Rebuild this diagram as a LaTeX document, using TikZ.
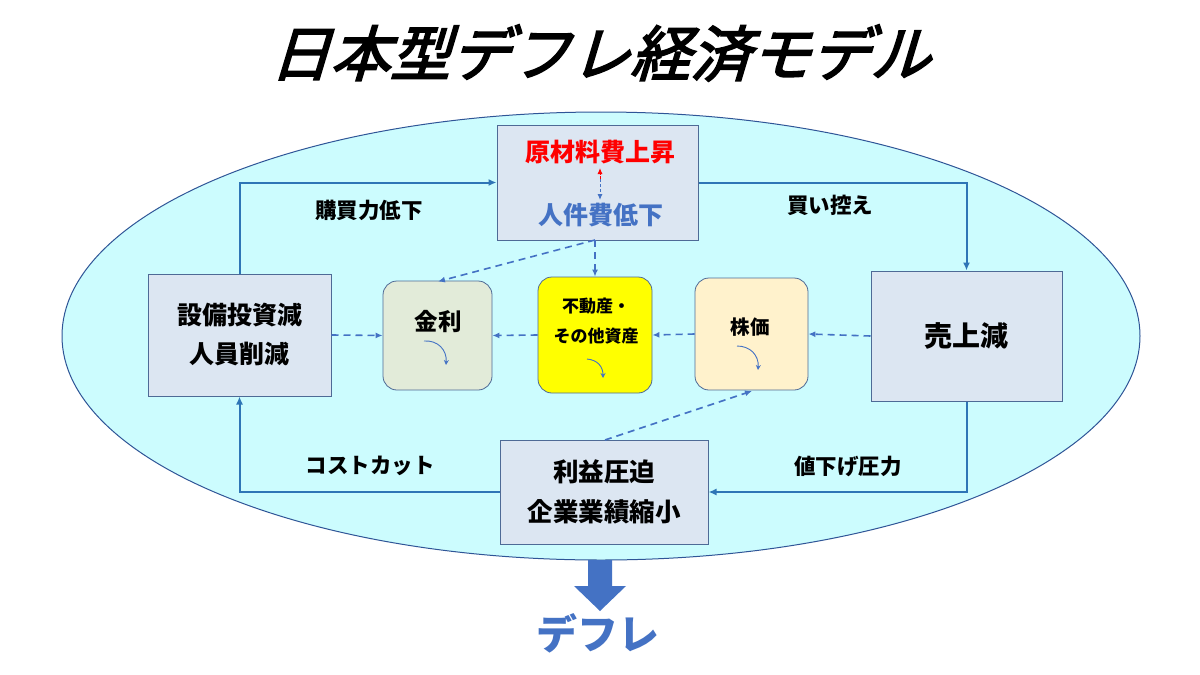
\documentclass[tikz,border=0pt]{standalone}
\usepackage{fontspec}
\setmainfont{Noto Sans CJK JP}
\newfontfamily\titlefont[FakeSlant=0.3,FakeBold=3]{Noto Sans CJK JP}
\usetikzlibrary{arrows.meta}
\definecolor{ellfill}{RGB}{204,252,254}
\definecolor{elldraw}{RGB}{47,85,151}
\definecolor{boxfill}{RGB}{220,230,242}
\definecolor{boxdraw}{RGB}{78,106,150}
\definecolor{solidblue}{RGB}{46,117,182}
\definecolor{dashblue}{RGB}{68,114,196}
\definecolor{textblue}{RGB}{68,114,196}
\definecolor{greenfill}{RGB}{226,235,217}
\definecolor{creamfill}{RGB}{255,242,204}
\definecolor{yell}{RGB}{255,255,0}
\tikzset{
  mainbox/.style={draw=boxdraw, line width=1pt, fill=boxfill, inner sep=0pt, align=center, font=\bfseries},
  roundbox/.style={draw=boxdraw, line width=0.8pt, rounded corners=14pt, inner sep=0pt},
  flow/.style={draw=solidblue, line width=2pt, -{Latex[length=8pt,width=7pt]}},
  dflow/.style={draw=dashblue, line width=1.6pt, dash pattern=on 7pt off 5pt, -{Latex[length=7pt,width=6pt]}},
  lbl/.style={font=\fontsize{21.5}{24}\selectfont\bfseries, inner sep=0pt},
  trend/.style={draw=dashblue, line width=0.9pt, -{Stealth[length=5pt,width=5pt]}}
}
\begin{document}
\begin{tikzpicture}[x=1pt,y=-1pt]
\useasboundingbox[fill=white] (0,0) rectangle (1200,675);
% title
\node[font=\titlefont\fontsize{60}{64}\selectfont, inner sep=0pt] (title) at (600,53) {日本型デフレ経済モデル};
% ellipse
\draw[fill=ellfill, draw=elldraw, line width=1pt] (601,336) ellipse [x radius=539, y radius=224];
% boxes
\node[mainbox, minimum width=201pt, minimum height=115pt] (top) at (597.5,182.5) {};
\node[font=\fontsize{25}{28}\selectfont\bfseries, text=red, inner sep=0pt] (raw) at (600,152) {原材料費上昇};
\node[font=\fontsize{25}{28}\selectfont\bfseries, text=textblue, inner sep=0pt] (labor) at (601,215) {人件費低下};
\coordinate (mid) at (600,179);
\draw[draw=red, line width=1pt, dash pattern=on 3pt off 2pt, -{Latex[length=6pt,width=5pt]}] (mid) -- (600,168);
\draw[draw=dashblue, line width=1pt, dash pattern=on 3pt off 2pt, -{Latex[length=6pt,width=5pt]}] (mid) -- (600,200);

\node[mainbox, minimum width=183pt, minimum height=122pt, font=\fontsize{25}{39}\selectfont\bfseries] (left) at (239.5,335) {設備投資減\\人員削減};
\node[mainbox, minimum width=191pt, minimum height=130pt, font=\fontsize{28}{30}\selectfont\bfseries] (right) at (966.5,336) {売上減};
\node[mainbox, minimum width=208pt, minimum height=104pt, font=\fontsize{25.5}{40}\selectfont\bfseries] (bottom) at (604,492) {利益圧迫\\企業業績縮小};

\node[roundbox, fill=greenfill, minimum width=109pt, minimum height=109pt] (rate) at (437.5,335.5) {};
\node[font=\fontsize{23.5}{26}\selectfont\bfseries, inner sep=0pt] (rateT) at (438,322) {金利};
\node[roundbox, fill=yell, minimum width=114pt, minimum height=116pt] (estate) at (595,335) {};
\node[font=\fontsize{17}{30}\selectfont\bfseries, inner sep=0pt, align=center] (estateT) at (596,321) {不動産・\\その他資産};
\node[roundbox, fill=creamfill, minimum width=113pt, minimum height=112pt] (stock) at (751.5,334) {};
\node[font=\fontsize{19.5}{22}\selectfont\bfseries, inner sep=0pt] (stockT) at (750,327) {株価};

% trend arrows
\draw[trend] (424,341) .. controls (438,340) and (447,350) .. (446,365);
\draw[trend] (587,359) .. controls (598,360) and (603,367) .. (603,378);
\draw[trend] (737,346) .. controls (750,346) and (759,355) .. (758,370);

% main loop
\draw[flow] (left.north) |- (top.west);
\draw[flow] (top.east) -| (right.north);
\draw[flow] (right.south) |- (bottom.east);
\draw[flow] (bottom.west) -| (left.south);

\node[lbl] (l1) at (369,210) {購買力低下};
\node[lbl] (l2) at (830,205) {買い控え};
\node[lbl] (l3) at (848,466) {値下げ圧力};
\node[lbl] (l4) at (370,466) {コストカット};

% dashed links
\draw[dflow] (left.east) -- (rate.west);
\draw[dflow] (estate.west) -- (rate.east);
\draw[dflow] (stock.west) -- (estate.east);
\draw[dflow] (right.west) -- (stock.east);
\coordinate (tb) at (595,240);
\coordinate (ratetop) at (438,281.5);
\coordinate (bt) at (605,440);
\coordinate (stockbot) at (752,391);
\draw[dflow] (tb) -- (estate.north);
\draw[dflow] (tb) -- (ratetop);
\draw[dflow] (bt) -- (stockbot);

% deflation arrow
\fill[textblue] (588,560) -- (612,560) -- (612,586) -- (626,586) -- (600,611) -- (574,586) -- (588,586) -- cycle;
\node[font=\fontsize{41}{44}\selectfont\bfseries, text=textblue, inner sep=0pt] (defl) at (598,633) {デフレ};
\end{tikzpicture}
\end{document}
